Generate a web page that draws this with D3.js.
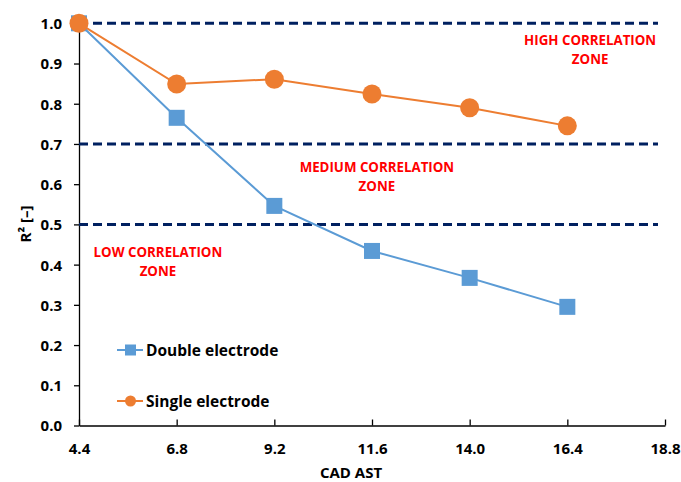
<!DOCTYPE html>
<html>
<head>
<meta charset="utf-8">
<script src="https://cdn.jsdelivr.net/npm/d3@7/dist/d3.min.js"></script>
<style>
  html, body { margin: 0; padding: 0; background: #fff; }
  svg { display: block; }
  text { font-family: "Open Sans", Lato, sans-serif; font-weight: bold; }
</style>
</head>
<body>
<div id="chart"></div>
<script>
// CAD AST values on the x axis
const cadAst = [4.4, 6.8, 9.2, 11.6, 14.0, 16.4];
// R² for each electrode configuration
const doubleElectrode = [1.0, 0.765, 0.546, 0.434, 0.367, 0.295];
const singleElectrode = [1.0, 0.849, 0.861, 0.824, 0.790, 0.745];
// Axis ticks
const xTicks = [4.4, 6.8, 9.2, 11.6, 14.0, 16.4, 18.8];
const yTicks = [0, 0.1, 0.2, 0.3, 0.4, 0.5, 0.6, 0.7, 0.8, 0.9, 1.0];
// Zone thresholds and labels (anchored in data units)
const thresholds = [1.0, 0.7, 0.5];
const zoneLabels = [
  { lines: ["HIGH CORRELATION", "ZONE"], x: 16.96, y: 0.946 },
  { lines: ["MEDIUM CORRELATION", "ZONE"], x: 11.72, y: 0.631 },
  { lines: ["LOW CORRELATION", "ZONE"], x: 6.34, y: 0.419 }
];
const seriesNames = ["Double electrode", "Single electrode"];

const W = 681, H = 482;
const svg = d3.select("#chart").append("svg").attr("width", W).attr("height", H);

const x = d3.scaleLinear().domain([4.4, 18.8]).range([79, 665]);
const y = d3.scaleLinear().domain([0, 1.0]).range([425.5, 23.3]);

const blue = "#5B9BD5", orange = "#ED7D31", navy = "#002060";

// Axes
const yAxis = svg.append("g").attr("transform", `translate(${x(4.4)},0)`)
  .call(d3.axisLeft(y).tickValues(yTicks).tickFormat(d3.format(".1f")).tickSize(5).tickSizeOuter(0));
const xAxis = svg.append("g").attr("transform", `translate(0,${y(0)})`)
  .call(d3.axisBottom(x).tickValues(xTicks).tickFormat(d3.format(".1f")).tickSize(-6).tickSizeOuter(0));

[xAxis, yAxis].forEach(g => {
  g.select(".domain").attr("stroke", "#000").attr("stroke-width", 1.3);
  g.selectAll(".tick line").attr("stroke", "#000").attr("stroke-width", 1.3);
  g.selectAll(".tick text").attr("fill", "#000").style("font-size", "15px")
    .style("font-weight", "bold").style("font-family", "'Open Sans', sans-serif");
});
yAxis.selectAll(".tick text").attr("x", -17).attr("dy", "0.36em");
xAxis.selectAll(".tick text").attr("y", 17.5).attr("dy", "0.71em");

// Axis titles
svg.append("text").attr("x", 351).attr("y", 478).attr("text-anchor", "middle")
  .style("font-size", "15px").text("CAD AST");
svg.append("text").attr("transform", "translate(31,224) rotate(-90)").attr("text-anchor", "middle")
  .style("font-size", "15px").text("R² [–]");

// Threshold dashed lines
svg.append("g").selectAll("line").data(thresholds).join("line")
  .attr("x1", x(4.4)).attr("x2", 658)
  .attr("y1", d => y(d)).attr("y2", d => y(d))
  .attr("stroke", navy).attr("stroke-width", 3).attr("stroke-dasharray", "9,5");

// Zone labels
zoneLabels.forEach(z => {
  const t = svg.append("text").attr("text-anchor", "middle").attr("fill", "#FF0000")
    .style("font-size", "13.3px");
  z.lines.forEach((ln, i) => {
    t.append("tspan").attr("x", x(z.x)).attr("y", y(z.y) + i * 19).text(ln);
  });
});

const line = d3.line().x((d, i) => x(cadAst[i])).y(d => y(d));

// Double electrode series
svg.append("path").datum(doubleElectrode).attr("d", line)
  .attr("fill", "none").attr("stroke", blue).attr("stroke-width", 2);
svg.append("g").selectAll("rect").data(doubleElectrode).join("rect")
  .attr("x", (d, i) => x(cadAst[i]) - 8).attr("y", d => y(d) - 8)
  .attr("width", 16).attr("height", 16).attr("fill", blue);

// Single electrode series
svg.append("path").datum(singleElectrode).attr("d", line)
  .attr("fill", "none").attr("stroke", orange).attr("stroke-width", 2);
svg.append("g").selectAll("circle").data(singleElectrode).join("circle")
  .attr("cx", (d, i) => x(cadAst[i])).attr("cy", d => y(d)).attr("r", 9.5)
  .attr("fill", orange);

// Legend
const legend = svg.append("g");
const legendRows = [
  { name: seriesNames[0], color: blue, shape: "square", cy: 350 },
  { name: seriesNames[1], color: orange, shape: "circle", cy: 401 }
];
legendRows.forEach(r => {
  legend.append("line").attr("x1", 117).attr("x2", 143).attr("y1", r.cy).attr("y2", r.cy)
    .attr("stroke", r.color).attr("stroke-width", 2);
  if (r.shape === "square") {
    legend.append("rect").attr("x", 130.5 - 5.5).attr("y", r.cy - 5.5).attr("width", 11).attr("height", 11).attr("fill", r.color);
  } else {
    legend.append("circle").attr("cx", 130.5).attr("cy", r.cy).attr("r", 5.5).attr("fill", r.color);
  }
  legend.append("text").attr("x", 146).attr("y", r.cy).attr("dy", "0.36em")
    .style("font-size", "15.5px").attr("fill", "#000").text(r.name);
});
</script>
</body>
</html>
